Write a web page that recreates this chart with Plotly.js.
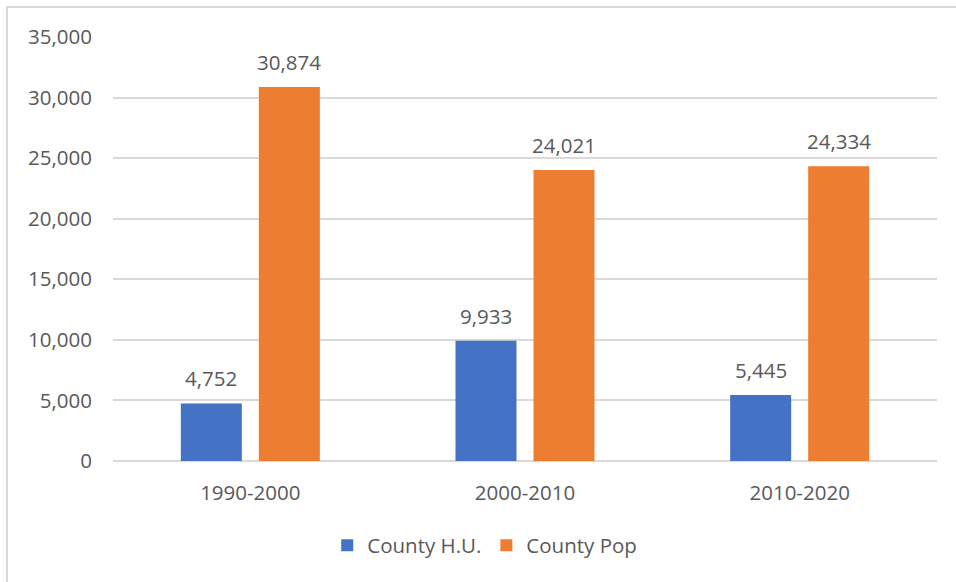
<!DOCTYPE html>
<html>
<head>
<meta charset="utf-8">
<script src="https://cdn.plot.ly/plotly-3.0.1.min.js"></script>
<style>
html,body{margin:0;padding:0;background:#fff;overflow:hidden;}
#wrap{position:relative;width:956px;height:582px;}
#chart{width:956px;height:582px;}
#frame{position:absolute;left:6px;top:6px;width:1000px;height:1000px;border:2px solid #d9d9d9;pointer-events:none;box-sizing:border-box;}
</style>
</head>
<body>
<div id="wrap"><div id="chart"></div><div id="frame"></div></div>
<script>
const categories = ["1990-2000", "2000-2010", "2010-2020"];
const countyHU = [4752, 9933, 5445];
const countyPop = [30874, 24021, 24334];
const yTicks = [0, 5000, 10000, 15000, 20000, 25000, 30000, 35000];
const yTickLabels = ["0", "5,000", "10,000", "15,000", "20,000", "25,000", "30,000", "35,000"];

const fontFam = "Open Sans, sans-serif";
const txtColor = "#595959";
const fs = 20.5;

const traces = [
  {
    type: "bar", name: "County H.U.", x: categories, y: countyHU,
    marker: {color: "#4472C4"}, hoverinfo: "none"
  },
  {
    type: "bar", name: "County Pop", x: categories, y: countyPop,
    marker: {color: "#ED7D31"}, hoverinfo: "none"
  }
];

const fmt = v => v.toLocaleString("en-US");
const annotations = [];
categories.forEach((c, i) => {
  annotations.push({x: c, y: countyHU[i], xref: "x", yref: "y", text: fmt(countyHU[i]),
    showarrow: false, xshift: -39, yshift: 9, yanchor: "bottom",
    font: {family: fontFam, size: fs, color: txtColor}});
  annotations.push({x: c, y: countyPop[i], xref: "x", yref: "y", text: fmt(countyPop[i]),
    showarrow: false, xshift: 39, yshift: 9, yanchor: "bottom",
    font: {family: fontFam, size: fs, color: txtColor}});
});

const layout = {
  width: 956, height: 582,
  margin: {l: 113, r: 19, t: 37, b: 121},
  paper_bgcolor: "#fff", plot_bgcolor: "#fff",
  font: {family: fontFam, size: fs, color: txtColor},
  barmode: "group", bargap: 0.432, bargroupgap: 0.218,
  showlegend: true,
  annotations: annotations,
  legend: {orientation: "h", x: 0.26, xanchor: "left", y: -0.152, yanchor: "top",
           font: {family: fontFam, size: fs, color: txtColor}, itemwidth: 30},
  xaxis: {showgrid: false, zeroline: false, showline: false, ticks: "",
          tickfont: {family: fontFam, size: fs, color: txtColor}, ticklabelstandoff: 17},
  yaxis: {range: [0, 35000], tickvals: yTicks, ticktext: yTickLabels,
          showgrid: true, gridcolor: "#d9d9d9", gridwidth: 2,
          zeroline: true, zerolinecolor: "#d9d9d9", zerolinewidth: 2,
          showline: false, ticks: "", ticklabelstandoff: 20,
          tickfont: {family: fontFam, size: fs, color: txtColor}}
};

Plotly.newPlot("chart", traces, layout, {staticPlot: true, displayModeBar: false});
</script>
</body>
</html>
